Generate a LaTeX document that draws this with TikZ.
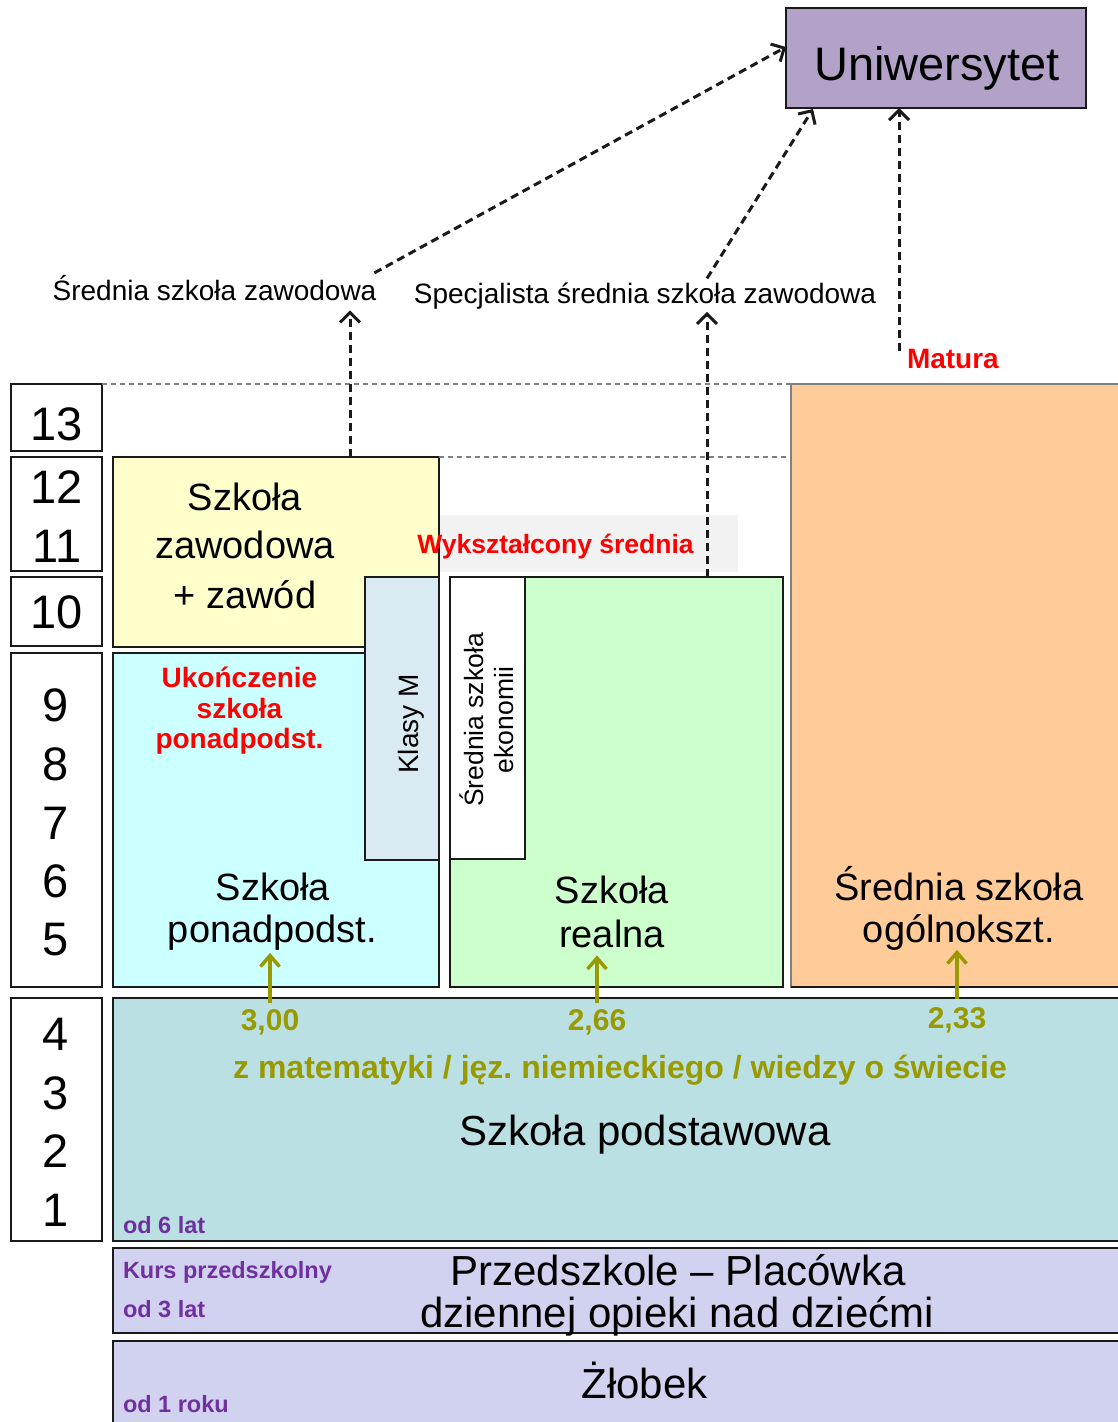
\documentclass[tikz,border=0pt]{standalone}
\usepackage{fontspec}
\setmainfont{Liberation Sans}
\usetikzlibrary{arrows.meta,calc}
\frenchspacing
\definecolor{cyel}{HTML}{FFFFCC}
\definecolor{ccyan}{HTML}{CCFFFF}
\definecolor{cklasy}{HTML}{DAEAF2}
\definecolor{cgreen}{HTML}{CCFFCC}
\definecolor{corange}{HTML}{FFCC99}
\definecolor{cteal}{HTML}{BBE0E3}
\definecolor{clav}{HTML}{D1D2F0}
\definecolor{cuni}{HTML}{B3A2C7}
\definecolor{cgraybox}{HTML}{F2F2F2}
\definecolor{cred}{HTML}{FF0000}
\definecolor{colive}{HTML}{999900}
\definecolor{cpurp}{HTML}{7030A0}
\definecolor{cborder}{HTML}{1A1A1A}
\tikzset{
  box/.style={draw=cborder, line width=2.8pt, inner sep=0pt, outer sep=0pt, anchor=north west},
  tx/.style={inner sep=0pt, outer sep=0pt, anchor=base},
  numtxt/.style={tx, font=\fontsize{47}{50}\selectfont},
  bigtxt/.style={tx, font=\fontsize{38}{44}\selectfont},
  hugetxt/.style={tx, font=\fontsize{42}{46}\selectfont},
  lbltxt/.style={tx, font=\fontsize{28}{32}\selectfont},
  redtxt/.style={tx, text=cred, font=\bfseries\fontsize{28}{32}\selectfont},
  olvtxt/.style={tx, text=colive, font=\bfseries\fontsize{30}{34}\selectfont},
  purtxt/.style={tx, anchor=base west, text=cpurp, font=\bfseries\fontsize{23.5}{26}\selectfont},
  gline/.style={draw=gray, line width=1.6pt, dash pattern=on 5pt off 4pt},
  darr/.style={draw=cborder, line width=3pt, dash pattern=on 8pt off 5pt, -{Straight Barb[length=10pt,width=20pt]}},
  oarr/.style={draw=colive, line width=3.5pt, -{Straight Barb[length=11pt,width=19pt]}}
}
\begin{document}
\begin{tikzpicture}[x=1pt,y=-1pt]
\useasboundingbox (0,0) rectangle (1117,1422);
\fill[white] (0,0) rectangle (1117,1422);

% boxes
\node[box, fill=cuni, minimum width=300pt, minimum height=100pt] (uni) at (786,8) {};
\node[box, fill=white, minimum width=91pt, minimum height=67pt] (n13) at (11,384) {};
\node[box, fill=white, minimum width=91pt, minimum height=114pt] (n1211) at (11,457) {};
\node[box, fill=white, minimum width=91pt, minimum height=69pt] (n10) at (11,577) {};
\node[box, fill=white, minimum width=91pt, minimum height=334pt] (n95) at (11,653) {};
\node[box, fill=white, minimum width=91pt, minimum height=243pt] (n41) at (11,998) {};

\node[box, draw=none, fill=cgraybox, minimum width=298pt, minimum height=57pt] (wyk) at (440,515) {};
\node[box, draw=gray, line width=1.6pt, fill=corange, minimum width=340pt, minimum height=603pt] (ogol) at (791,384) {};
\draw[cborder, line width=2.8pt] (ogol.south west) -- (ogol.south east);

\node[box, fill=cyel, minimum width=326pt, minimum height=190pt] (zaw) at (113,457) {};
\node[box, fill=ccyan, minimum width=326pt, minimum height=334pt] (pon) at (113,653) {};
\node[box, fill=cklasy, minimum width=74pt, minimum height=283pt] (klasy) at (365,577) {};
\node[box, fill=cgreen, minimum width=333pt, minimum height=410pt] (real) at (450,577) {};
\node[box, fill=white, minimum width=75pt, minimum height=282pt] (ekon) at (450,577) {};
\node[box, fill=cteal, minimum width=1020pt, minimum height=243pt] (pods) at (113,998) {};
\node[box, fill=clav, minimum width=1020pt, minimum height=85pt] (prz) at (113,1248) {};
\node[box, fill=clav, minimum width=1020pt, minimum height=100pt] (zlo) at (113,1341) {};

% gray dashed guide lines
\draw[gline] (n13.north east) -- (ogol.north west);
\draw[gline] (zaw.north east) -- (zaw.north east -| ogol.west);

% numbers
\node[numtxt] (t13) at (57,440) {13};
\node[numtxt] (t12) at (57,503) {12};
\node[numtxt] (t11) at (57,562) {11};
\node[numtxt] (t10) at (57,628) {10};
\node[numtxt] (t9) at (56,721) {9};
\node[numtxt] (t8) at (56,780) {8};
\node[numtxt] (t7) at (56,839) {7};
\node[numtxt] (t6) at (56,897) {6};
\node[numtxt] (t5) at (56,955) {5};
\node[numtxt] (t4) at (56,1050) {4};
\node[numtxt] (t3) at (56,1109) {3};
\node[numtxt] (t2) at (56,1167) {2};
\node[numtxt] (t1) at (56,1226) {1};

% texts
\node[tx, font=\fontsize{47}{50}\selectfont] (uniT) at (937,80) {Uniwersytet};
\node[lbltxt] (lblA) at (214.5,300) {Średnia szkoła zawodowa};
\node[lbltxt] (lblB) at (645,303) {Specjalista średnia szkoła zawodowa};
\node[redtxt, anchor=base west] (mat) at (907,368) {Matura};

\node[bigtxt] (zaw1) at (245,510) {Szkoła};
\node[bigtxt] (zaw2) at (245,558) {zawodowa};
\node[bigtxt] (zaw3) at (245,608) {+ zawód};

\node[redtxt] (uk1) at (239.5,687) {Ukończenie};
\node[redtxt] (uk2) at (239.5,718) {szkoła};
\node[redtxt] (uk3) at (239.5,748) {ponadpodst.};
\node[bigtxt] (pon1) at (273,900) {Szkoła};
\node[bigtxt] (pon2) at (272.5,942) {ponadpodst.};

\node[tx, rotate=90, font=\fontsize{28}{32}\selectfont] (klasyT) at (418,724) {Klasy M};
\node[tx, rotate=90, font=\fontsize{26.5}{30}\selectfont] (ek1) at (483,720) {Średnia szkoła};
\node[tx, rotate=90, font=\fontsize{26.5}{30}\selectfont] (ek2) at (513,720) {ekonomii};

\node[tx, text=cred, font=\bfseries\fontsize{26.5}{30}\selectfont] (wykT) at (555.5,553) {Wykształcony średnia};

\node[bigtxt] (real1) at (612,903) {Szkoła};
\node[bigtxt] (real2) at (612,947) {realna};

\node[bigtxt] (ogol1) at (959,900) {Średnia szkoła};
\node[bigtxt] (ogol2) at (959,942) {ogólnokszt.};

\node[olvtxt] (v300) at (270,1030) {3,00};
\node[olvtxt] (v266) at (597,1030) {2,66};
\node[olvtxt] (v233) at (957,1028) {2,33};
\node[tx, text=colive, font=\bfseries\fontsize{32}{36}\selectfont] (subj) at (620,1078) {z matematyki / jęz. niemieckiego / wiedzy o świecie};
\node[hugetxt] (podsT) at (645,1145) {Szkoła podstawowa};
\node[purtxt] (od6) at (123,1233) {od 6 lat};

\node[purtxt] (kurs) at (123,1278) {Kurs przedszkolny};
\node[purtxt] (od3) at (123,1317) {od 3 lat};
\node[hugetxt] (prz1) at (678,1285) {Przedszkole – Placówka};
\node[hugetxt] (prz2) at (677,1327) {dziennej opieki nad dziećmi};

\node[hugetxt] (zloT) at (644.5,1398) {Żłobek};
\node[purtxt] (od1) at (123,1412) {od 1 roku};

% connectors
\coordinate (xA) at (350,0);
\coordinate (xB) at (707,0);
\coordinate (xC) at (899,0);
\draw[darr] (zaw.north -| xA) -- ($(lblA.south -| xA)+(0,10)$);
\draw[darr] (real.north -| xB) -- ($(lblB.south -| xB)+(0,3)$);
\draw[darr] ($(lblA.north east)+(-2,-2)$) -- ($(uni.north west)+(0,39)$);
\draw[darr] ($(lblB.north)+(62,-4)$) -- ($(uni.south west)+(27,1)$);
\draw[darr] ($(mat.north west)+(-8,2)$) -- (uni.south -| xC);

\draw[oarr] ($(v300.north)+(0,-6)$) -- ($(v300.north |- pon2.south)+(0,3)$);
\draw[oarr] ($(v266.north)+(0,-6)$) -- ($(v266.north |- real2.south)+(0,8)$);
\draw[oarr] ($(v233.north)+(0,-8)$) -- (v233.north |- ogol2.south);
\end{tikzpicture}
\end{document}
